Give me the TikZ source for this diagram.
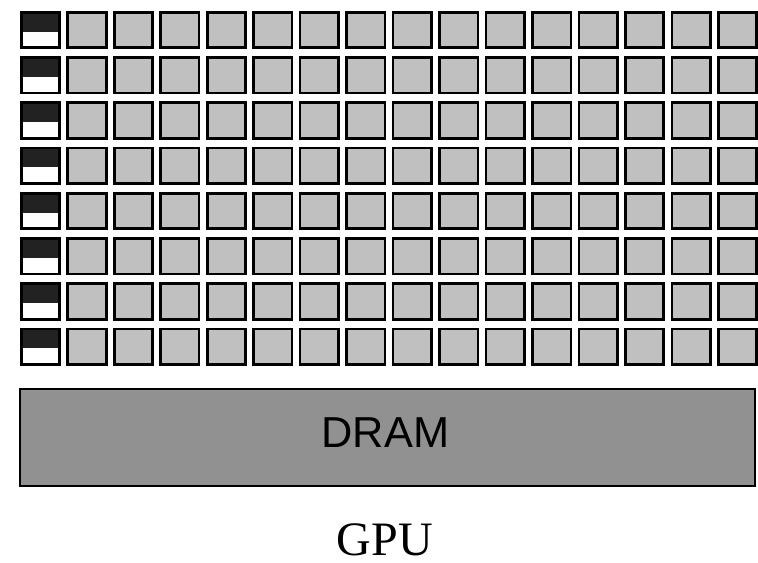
\documentclass[tikz,border=0pt]{standalone}
\usepackage{fontspec}
\setmainfont{Liberation Serif}
\setsansfont{Liberation Sans}
\definecolor{coregray}{HTML}{C0C0C0}
\definecolor{memdark}{HTML}{222222}
\definecolor{dramgray}{HTML}{919191}
\begin{document}
\begin{tikzpicture}[x=0.75pt,y=-0.75pt,
  core/.style={draw=black,line width=2pt,fill=coregray,inner sep=0pt,
    minimum width=28.8pt,minimum height=26.55pt},
  memcell/.style={draw=black,line width=2pt,fill=white,inner sep=0pt,
    minimum width=28.8pt,minimum height=26.55pt,
    path picture={\fill[memdark] (path picture bounding box.north west) rectangle ([yshift=-1.2pt]path picture bounding box.east);}},
  drambox/.style={draw=black,line width=1.5pt,fill=dramgray,inner sep=0pt,
    minimum width=551.25pt,minimum height=72.75pt},
  dramlabel/.style={font=\sffamily\fontsize{32.5pt}{36pt}\selectfont,inner sep=0pt,anchor=base},
  gpulabel/.style={font=\rmfamily\fontsize{36pt}{40pt}\selectfont,inner sep=0pt,anchor=base}]
\useasboundingbox (0,0) rectangle (758,563);
\foreach \r in {0,...,7} {
  \node[memcell] (m-\r) at (40.5,{30+\r*45.25}) {};
  \foreach \c in {1,...,15}
    \node[core] (c-\r-\c) at ({40.5+\c*46.47},{30+\r*45.25}) {};
}
\node[drambox] (dram) at (387.5,437.5) {};
\node[dramlabel] (dramtext) at (385.5,447.7) {DRAM};
\node[gpulabel] (gpu) at (385,555) {GPU};
\end{tikzpicture}
\end{document}
